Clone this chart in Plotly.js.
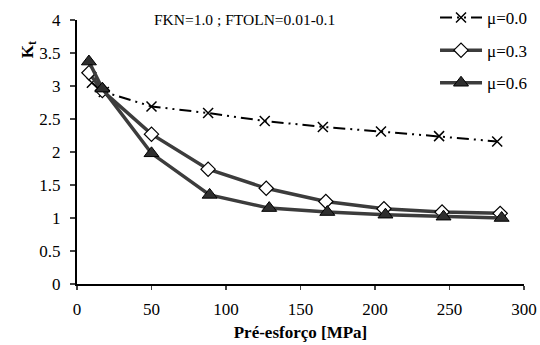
<!DOCTYPE html>
<html>
<head>
<meta charset="utf-8">
<script src="https://cdn.plot.ly/plotly-3.0.1.min.js"></script>
<style>
html,body{margin:0;padding:0;background:#fff;}
#chart{width:540px;height:345px;}
#chart svg text{font-family:"Liberation Serif","Times New Roman",serif !important;}
</style>
</head>
<body>
<div id="chart"></div>
<script>
// Data
const seriesNames = ["μ=0.0", "μ=0.3", "μ=0.6"];
const xMu00 = [10, 18, 50, 88, 126, 165, 204, 243, 282];
const yMu00 = [3.05, 2.91, 2.69, 2.59, 2.47, 2.38, 2.31, 2.24, 2.16];
const xMu03 = [8, 17, 50, 88, 127, 167, 206, 245, 284];
const yMu03 = [3.20, 2.93, 2.27, 1.74, 1.45, 1.25, 1.14, 1.09, 1.07];
const xMu06 = [8, 17, 50, 89, 129, 168, 207, 246, 285];
const yMu06 = [3.37, 2.96, 1.98, 1.35, 1.15, 1.09, 1.05, 1.02, 1.00];
const xTicks = [0, 50, 100, 150, 200, 250, 300];
const yTicks = [0, 0.5, 1, 1.5, 2, 2.5, 3, 3.5, 4];
const yTickText = ["0", "0.5", "1", "1.5", "2", "2.5", "3", "3.5", "4"];

const serif = "Liberation Serif";
const lineGray = "#3c3c3c";

const traces = [
  {
    x: xMu00, y: yMu00, name: seriesNames[0], mode: "lines+markers", legendgroup: "a",
    line: {color: "#000", width: 2, dash: "12px,5px,2px,5px,2px,5px"},
    marker: {symbol: "x-thin-open", size: 10, color: "#000", line: {color: "#000", width: 1.5}}
  },
  {
    x: xMu03, y: yMu03, name: seriesNames[1], mode: "lines+markers", legendgroup: "b",
    line: {color: lineGray, width: 3.5},
    marker: {symbol: "diamond", size: 11, color: "#fff", line: {color: "#000", width: 1.2}}
  },
  {
    x: xMu06, y: yMu06, name: seriesNames[2], mode: "lines+markers", legendgroup: "c",
    line: {color: lineGray, width: 3.5},
    marker: {symbol: "triangle-up", size: 13, color: "#2e2e2e", line: {color: "#000", width: 1}}
  }
];

const layout = {
  width: 540, height: 345,
  margin: {l: 77, r: 5, t: 0, b: 61},
  paper_bgcolor: "#fff", plot_bgcolor: "#fff",
  font: {family: serif, size: 17, color: "#000"},
  showlegend: true,
  legend: {
    x: 0.7817, xanchor: "left", y: 1.0, yanchor: "top",
    bgcolor: "rgba(0,0,0,0)", borderwidth: 0,
    font: {family: serif, size: 17, color: "#000"},
    tracegroupgap: 7.5, itemwidth: 42
  },
  xaxis: {
    domain: [0, 0.976],
    range: [0, 300], tickvals: xTicks, ticks: "outside", ticklen: 4, tickwidth: 1.5,
    ticklabelstandoff: 5,
    showline: true, linecolor: "#000", linewidth: 2, showgrid: false, zeroline: false,
    tickfont: {family: serif, size: 17, color: "#000"},
    title: {text: "<b>Pré-esforço [MPa]</b>", font: {family: serif, size: 17, color: "#000"}, standoff: 8}
  },
  yaxis: {
    domain: [0, 0.9296],
    range: [0, 4], tickvals: yTicks, ticktext: yTickText, ticks: "outside", ticklen: 5, tickwidth: 1.5,
    ticklabelstandoff: 6,
    showline: true, linecolor: "#000", linewidth: 2, showgrid: false, zeroline: false,
    tickfont: {family: serif, size: 17, color: "#000"}
  },
  annotations: [
    {
      text: "<b>K<sub>t</sub></b>", xref: "paper", yref: "y", x: -0.134, y: 3.55,
      textangle: -90, showarrow: false, font: {family: serif, size: 17, color: "#000"}
    },
    {
      text: "FKN=1.0 ; FTOLN=0.01-0.1", xref: "x", yref: "y", x: 50.5, y: 4.0,
      xanchor: "left", yanchor: "middle", showarrow: false,
      font: {family: serif, size: 15.5, color: "#000"}
    }
  ]
};

Plotly.newPlot("chart", traces, layout, {displayModeBar: false, staticPlot: true});
</script>
</body>
</html>
